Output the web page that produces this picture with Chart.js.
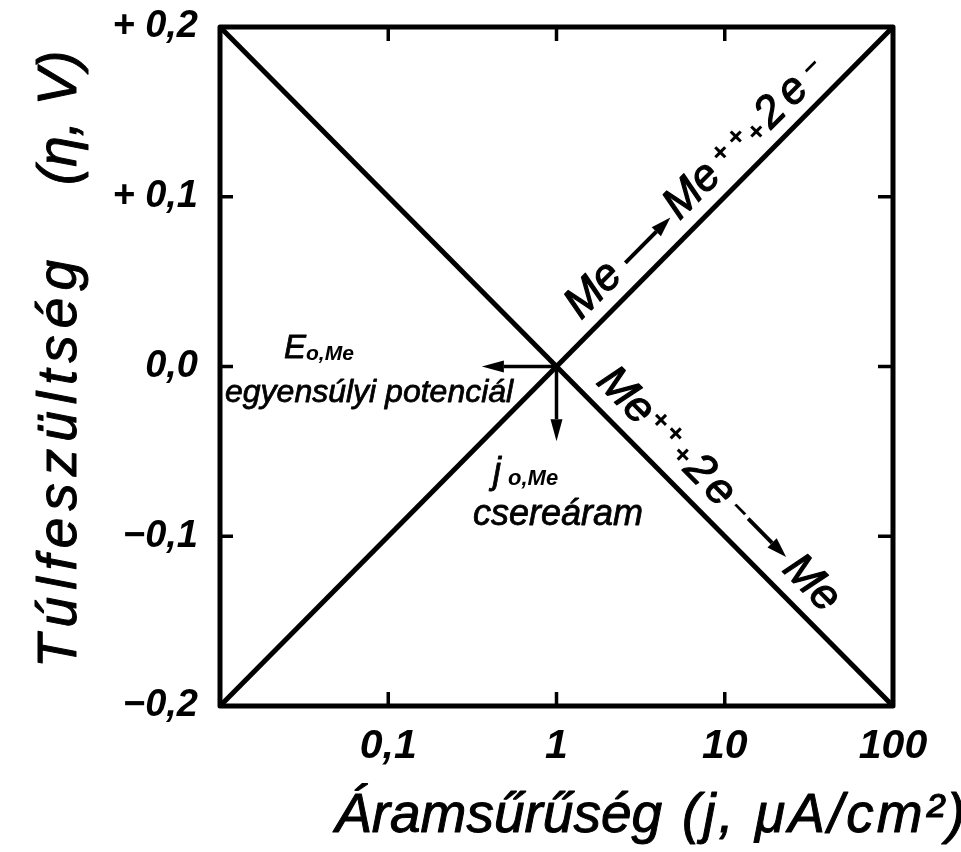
<!DOCTYPE html>
<html>
<head>
<meta charset="utf-8">
<script src="https://cdn.jsdelivr.net/npm/chart.js@4/dist/chart.umd.min.js"></script>
<style>
  html, body { margin: 0; padding: 0; background: #fff; }
  #wrap { width: 961px; height: 852px; }
</style>
</head>
<body>
<div id="wrap"><canvas id="c" width="961" height="852"></canvas></div>
<script>
// Current density range of both Tafel lines (j, µA/cm²)
const currentDensity = [0.01, 100];
// Overpotential (η, V) of the anodic branch: Me → Me++ + 2e-
const anodicOverpotential = [-0.2, 0.2];
// Overpotential (η, V) of the cathodic branch: Me++ + 2e- → Me
const cathodicOverpotential = [0.2, -0.2];
// Crossing point: exchange current density and equilibrium potential
const exchangeCurrent = 1;
const equilibriumPotential = 0.0;
// Ends of the two pointer arrows leaving the crossing point
const potentialArrowEnd = 0.36;   // j value where the E0,Me arrow stops
const currentArrowEnd = -0.044;   // η value where the j0,Me arrow stops

const xTickValues = [0.1, 1, 10, 100];
const xTickLabels = ['0,1', '1', '10', '100'];
const yTickValues = [-0.2, -0.1, 0, 0.1, 0.2];
const yTickLabels = ['−0,2', '−0,1', '0,0', '+ 0,1', '+ 0,2'];
const xInnerTicks = [0.1, 1, 10];
const yInnerTicks = [-0.1, 0, 0.1];

const SANS = "'Liberation Sans', 'DejaVu Sans', sans-serif";

function labelFor(values, labels, v) {
  const i = values.findIndex(t => Math.abs(t - v) < 1e-9);
  return i < 0 ? '' : labels[i];
}

// filled text with a thin outline for a heavier pen stroke
function penText(ctx, t, x, y, w) {
  ctx.fillText(t, x, y);
  if (w) { ctx.lineWidth = w; ctx.strokeText(t, x, y); }
}

function arrow(ctx, x0, y0, x1, y1, lw, headLen, headHalf) {
  const a = Math.atan2(y1 - y0, x1 - x0);
  const bx = x1 - headLen * Math.cos(a), by = y1 - headLen * Math.sin(a);
  ctx.lineWidth = lw;
  ctx.beginPath(); ctx.moveTo(x0, y0); ctx.lineTo(bx, by); ctx.stroke();
  ctx.beginPath();
  ctx.moveTo(x1, y1);
  ctx.lineTo(bx - headHalf * Math.sin(a), by + headHalf * Math.cos(a));
  ctx.lineTo(bx + headHalf * Math.sin(a), by - headHalf * Math.cos(a));
  ctx.closePath(); ctx.fill();
}

// Text placed along a line: s = distance from the crossing point, d = offset above the line
function textAlongLine(ctx, chart, xs, ys, items) {
  const sx = chart.scales.x, sy = chart.scales.y;
  const ax = sx.getPixelForValue(xs[0]), ay = sy.getPixelForValue(ys[0]);
  const bx = sx.getPixelForValue(xs[1]), by = sy.getPixelForValue(ys[1]);
  const ang = Math.atan2(by - ay, bx - ax);
  const ox = sx.getPixelForValue(exchangeCurrent), oy = sy.getPixelForValue(equilibriumPotential);
  ctx.save();
  ctx.translate(ox, oy);
  ctx.rotate(ang);
  items.forEach(it => {
    if (it.arrow) {
      arrow(ctx, it.s0, -it.d, it.s1, -it.d, 4, 20, 6.5);
    } else {
      ctx.font = it.font;
      ctx.textAlign = it.center ? 'center' : 'left';
      ctx.textBaseline = it.center ? 'middle' : 'alphabetic';
      penText(ctx, it.t, it.s, -it.d, it.w || 0);
    }
  });
  ctx.restore();
}

const BIG = `italic 44px ${SANS}`;
const SUP = `italic bold 28px ${SANS}`;

const decorations = {
  id: 'decorations',
  afterDatasetsDraw(chart) {
    const ctx = chart.ctx;
    const a = chart.chartArea;
    const sx = chart.scales.x, sy = chart.scales.y;
    ctx.save();
    ctx.strokeStyle = '#000';
    ctx.fillStyle = '#000';
    ctx.lineCap = 'butt';
    ctx.lineJoin = 'round';

    // frame
    ctx.lineWidth = 5;
    ctx.strokeRect(a.left, a.top, a.right - a.left, a.bottom - a.top);

    // inward tick marks
    ctx.lineWidth = 3.5;
    xInnerTicks.forEach(v => {
      const x = sx.getPixelForValue(v);
      ctx.beginPath(); ctx.moveTo(x, a.bottom); ctx.lineTo(x, a.bottom - 14); ctx.stroke();
      ctx.beginPath(); ctx.moveTo(x, a.top); ctx.lineTo(x, a.top + 14); ctx.stroke();
    });
    yInnerTicks.forEach(v => {
      const y = sy.getPixelForValue(v);
      ctx.beginPath(); ctx.moveTo(a.left, y); ctx.lineTo(a.left + 13, y); ctx.stroke();
      ctx.beginPath(); ctx.moveTo(a.right, y); ctx.lineTo(a.right - 15, y); ctx.stroke();
    });

    // pointer arrows from the crossing point
    const ox = sx.getPixelForValue(exchangeCurrent);
    const oy = sy.getPixelForValue(equilibriumPotential);
    arrow(ctx, ox, oy, sx.getPixelForValue(potentialArrowEnd), oy, 3.5, 22, 6);
    arrow(ctx, ox, oy, ox, sy.getPixelForValue(currentArrowEnd), 3.5, 22, 6);

    // annotation texts
    ctx.textAlign = 'left';
    ctx.textBaseline = 'alphabetic';
    ctx.font = `italic 33px ${SANS}`;
    penText(ctx, 'E', 284, 358, 0.8);
    ctx.font = `italic bold 21px ${SANS}`;
    penText(ctx, 'o,Me', 306, 360, 0);
    ctx.font = `italic 32px ${SANS}`;
    penText(ctx, 'egyensúlyi potenciál', 225, 402, 0.8);

    ctx.font = `italic 36px ${SANS}`;
    penText(ctx, 'j', 493, 483, 0.8);
    ctx.font = `italic bold 22px ${SANS}`;
    penText(ctx, 'o,Me', 508, 485, 0);
    ctx.font = `italic 36px ${SANS}`;
    penText(ctx, 'csereáram', 473, 525, 0.8);

    // reaction labels along both lines
    textAlongLine(ctx, chart, currentDensity, anodicOverpotential, [
      { t: 'Me', s: 50, d: 15, font: BIG, w: 1.2 },
      { arrow: true, s0: 122, s1: 186, d: 24 },
      { t: 'Me', s: 190, d: 15, font: BIG, w: 1.2 },
      { t: '+', s: 267, d: 33, font: SUP, center: true },
      { t: '+', s: 289, d: 33, font: SUP, center: true },
      { t: '+', s: 307, d: 22, font: SUP, center: true },
      { t: '2', s: 319, d: 14, font: BIG, w: 1.2 },
      { t: 'e', s: 350, d: 14, font: BIG, w: 1.2 },
      { t: '–', s: 392, d: 31, font: SUP, center: true }
    ]);
    textAlongLine(ctx, chart, currentDensity, cathodicOverpotential, [
      { t: 'Me', s: 39, d: 16, font: BIG, w: 1.2 },
      { t: '+', s: 111, d: 35, font: SUP, center: true },
      { t: '+', s: 131, d: 36, font: SUP, center: true },
      { t: '+', s: 151, d: 26, font: SUP, center: true },
      { t: '2', s: 162, d: 16, font: BIG, w: 1.2 },
      { t: 'e', s: 191, d: 16, font: BIG, w: 1.2 },
      { t: '–', s: 231, d: 30, font: SUP, center: true },
      { arrow: true, s0: 243, s1: 297, d: 29 },
      { t: 'Me', s: 303, d: 16, font: BIG, w: 1.2 }
    ]);

    // axis titles
    ctx.font = `italic 55px ${SANS}`;
    penText(ctx, 'Áramsűrűség', 335, 832, 1);
    ctx.letterSpacing = '3px';
    penText(ctx, '(j, μA/cm²)', 682, 832, 1);
    ctx.letterSpacing = '0px';

    ctx.save();
    ctx.translate(76, 668);
    ctx.rotate(-Math.PI / 2);
    ctx.letterSpacing = '7px';
    penText(ctx, 'Túlfeszültség', 0, 0, 1);
    ctx.restore();
    ctx.save();
    ctx.translate(76, 185);
    ctx.rotate(-Math.PI / 2);
    penText(ctx, '(η, V)', 0, 0, 1);
    ctx.restore();

    ctx.restore();
  }
};

const lineStyle = {
  showLine: true,
  borderColor: '#000',
  borderWidth: 5,
  pointRadius: 0,
  clip: false,
  fill: false
};

new Chart(document.getElementById('c'), {
  type: 'scatter',
  data: {
    datasets: [
      Object.assign({ data: currentDensity.map((x, i) => ({ x, y: anodicOverpotential[i] })) }, lineStyle),
      Object.assign({ data: currentDensity.map((x, i) => ({ x, y: cathodicOverpotential[i] })) }, lineStyle)
    ]
  },
  options: {
    responsive: false,
    animation: false,
    events: [],
    layout: { padding: { left: 0, right: 68, top: 27, bottom: 0 } },
    plugins: { legend: { display: false }, tooltip: { enabled: false } },
    scales: {
      x: {
        type: 'logarithmic',
        min: 0.01,
        max: 100,
        afterBuildTicks: s => { s.ticks = xTickValues.map(v => ({ value: v })); },
        afterFit: s => { s.height = 146; s.paddingLeft = 0; s.paddingRight = 0; },
        grid: { display: false, drawTicks: false },
        border: { display: false },
        ticks: {
          autoSkip: false,
          maxRotation: 0,
          padding: 16,
          color: '#000',
          font: { family: SANS, size: 41, style: 'italic', weight: 'bold' },
          callback: v => labelFor(xTickValues, xTickLabels, v)
        }
      },
      y: {
        min: -0.2,
        max: 0.2,
        afterBuildTicks: s => { s.ticks = yTickValues.map(v => ({ value: v })); },
        afterFit: s => { s.width = 220; s.paddingTop = 0; s.paddingBottom = 0; },
        grid: { display: false, drawTicks: false },
        border: { display: false },
        ticks: {
          autoSkip: false,
          padding: 22,
          color: '#000',
          font: { family: SANS, size: 38, style: 'italic', weight: 'bold' },
          callback: v => labelFor(yTickValues, yTickLabels, v)
        }
      }
    }
  },
  plugins: [decorations]
});
</script>
</body>
</html>
